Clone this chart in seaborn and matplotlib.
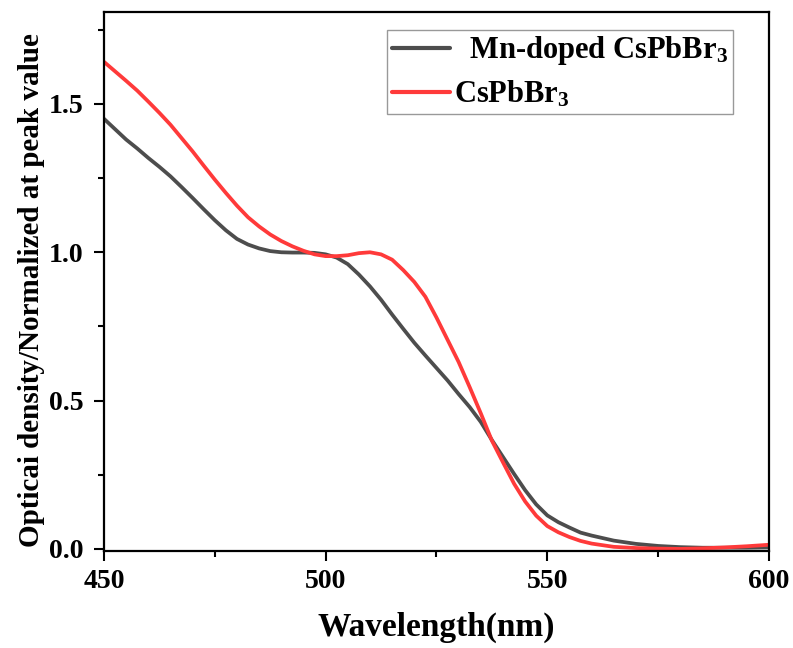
import numpy as np
import pandas as pd
import seaborn as sns
import matplotlib
matplotlib.use("Agg")
import matplotlib.pyplot as plt
from matplotlib.ticker import MultipleLocator, FormatStrFormatter

wl_mn = [450, 452.5, 455, 457.5, 460, 462.5, 465, 467.5, 470, 472.5, 475, 477.5,
         480, 482.5, 485, 487.5, 490, 492.5, 495, 497.5, 500, 502.5, 505, 507.5,
         510, 512.5, 515, 517.5, 520, 522.5, 525, 527.5, 530, 532.5, 535, 537.5,
         540, 542.5, 545, 547.5, 550, 552.5, 555, 557.5, 560, 565, 570, 575,
         580, 585, 590, 595, 600]
od_mn = [1.45, 1.415, 1.38, 1.35, 1.318, 1.288, 1.256, 1.22, 1.183, 1.145, 1.108,
         1.074, 1.045, 1.026, 1.013, 1.004, 1.0, 0.999, 0.999, 0.998, 0.993,
         0.982, 0.96, 0.925, 0.885, 0.84, 0.79, 0.742, 0.695, 0.652, 0.61,
         0.568, 0.522, 0.478, 0.428, 0.367, 0.31, 0.253, 0.198, 0.15, 0.113,
         0.09, 0.072, 0.055, 0.045, 0.028, 0.017, 0.01, 0.006, 0.004, 0.004,
         0.004, 0.005]

wl_cs = [450, 452.5, 455, 457.5, 460, 462.5, 465, 467.5, 470, 472.5, 475, 477.5,
         480, 482.5, 485, 487.5, 490, 492.5, 495, 497.5, 500, 502.5, 505, 507.5,
         510, 512.5, 515, 517.5, 520, 522.5, 525, 527.5, 530, 532.5, 535, 537.5,
         540, 542.5, 545, 547.5, 550, 552.5, 555, 557.5, 560, 565, 570, 575,
         580, 585, 590, 595, 600]
od_cs = [1.642, 1.61, 1.578, 1.545, 1.508, 1.47, 1.43, 1.385, 1.34, 1.292, 1.245,
         1.2, 1.157, 1.118, 1.087, 1.06, 1.038, 1.02, 1.005, 0.993, 0.987,
         0.987, 0.99, 0.997, 1.0, 0.993, 0.975, 0.94, 0.9, 0.85, 0.78, 0.705,
         0.63, 0.545, 0.457, 0.365, 0.292, 0.22, 0.16, 0.112, 0.077, 0.056,
         0.04, 0.027, 0.018, 0.007, 0.003, 0.001, 0.0, 0.002, 0.005, 0.009,
         0.014]

labels = ["  Mn-doped CsPbBr$_3$", "CsPbBr$_3$"]
colors = ["#4d4d4d", "#ff3a3a"]

df = pd.concat([
    pd.DataFrame({"wl": wl_mn, "od": od_mn, "s": labels[0]}),
    pd.DataFrame({"wl": wl_cs, "od": od_cs, "s": labels[1]}),
])

sns.set_theme(style="ticks")
plt.rcParams["font.family"] = ["Liberation Serif", "DejaVu Serif"]
plt.rcParams["font.weight"] = "bold"
plt.rcParams["mathtext.fontset"] = "custom"
plt.rcParams["mathtext.rm"] = "Liberation Serif:bold"
plt.rcParams["mathtext.it"] = "Liberation Serif:bold"
plt.rcParams["mathtext.bf"] = "Liberation Serif:bold"
for key in ["text.color", "axes.labelcolor", "xtick.color", "ytick.color",
            "axes.edgecolor"]:
    plt.rcParams[key] = "black"

fig = plt.figure(figsize=(7.93, 6.48), dpi=100)
ax = fig.add_axes([0.1311, 0.1497, 0.8386, 0.8318])

sns.lineplot(data=df, x="wl", y="od", hue="s", palette=colors, linewidth=2.7,
             ax=ax, sort=False, estimator=None)

ax.set_xlim(450, 600)
ax.set_ylim(-0.007, 1.81)
ax.xaxis.set_major_locator(MultipleLocator(50))
ax.xaxis.set_minor_locator(MultipleLocator(25))
ax.yaxis.set_major_locator(MultipleLocator(0.5))
ax.yaxis.set_minor_locator(MultipleLocator(0.25))
ax.yaxis.set_major_formatter(FormatStrFormatter("%.1f"))
ax.tick_params(axis="both", which="major", length=7, width=1.5, direction="out",
               labelsize=20, colors="black")
ax.tick_params(axis="x", which="major", pad=6)
ax.tick_params(axis="y", which="major", pad=8)
ax.tick_params(axis="both", which="minor", length=4, width=1.5, direction="out",
               colors="black")
for lab in ax.get_xticklabels() + ax.get_yticklabels():
    lab.set_fontweight("bold")
for sp in ax.spines.values():
    sp.set_linewidth(1.6)
    sp.set_color("black")

ax.set_xlabel("Wavelength(nm)", fontsize=24, fontweight="bold", color="black")
ax.xaxis.set_label_coords(0.5, -0.112)
ax.set_ylabel("Opticai density/Normalized at peak value", fontsize=21,
              fontweight="bold", color="black")
ax.yaxis.set_label_coords(-0.088, 0.485)

leg = ax.legend(loc="upper left", bbox_to_anchor=(0.4256, 0.967), fontsize=22,
                frameon=True, fancybox=False, handlelength=1.9,
                handletextpad=0.15, borderpad=0.15, labelspacing=0.38,
                borderaxespad=0)
leg.get_frame().set_edgecolor("#808080")
leg.get_frame().set_linewidth(1.0)
for t in leg.get_texts():
    t.set_fontweight("bold")
    t.set_color("black")
for h in leg.get_lines():
    h.set_linewidth(3.0)

fig.savefig("out.png", dpi=100)
